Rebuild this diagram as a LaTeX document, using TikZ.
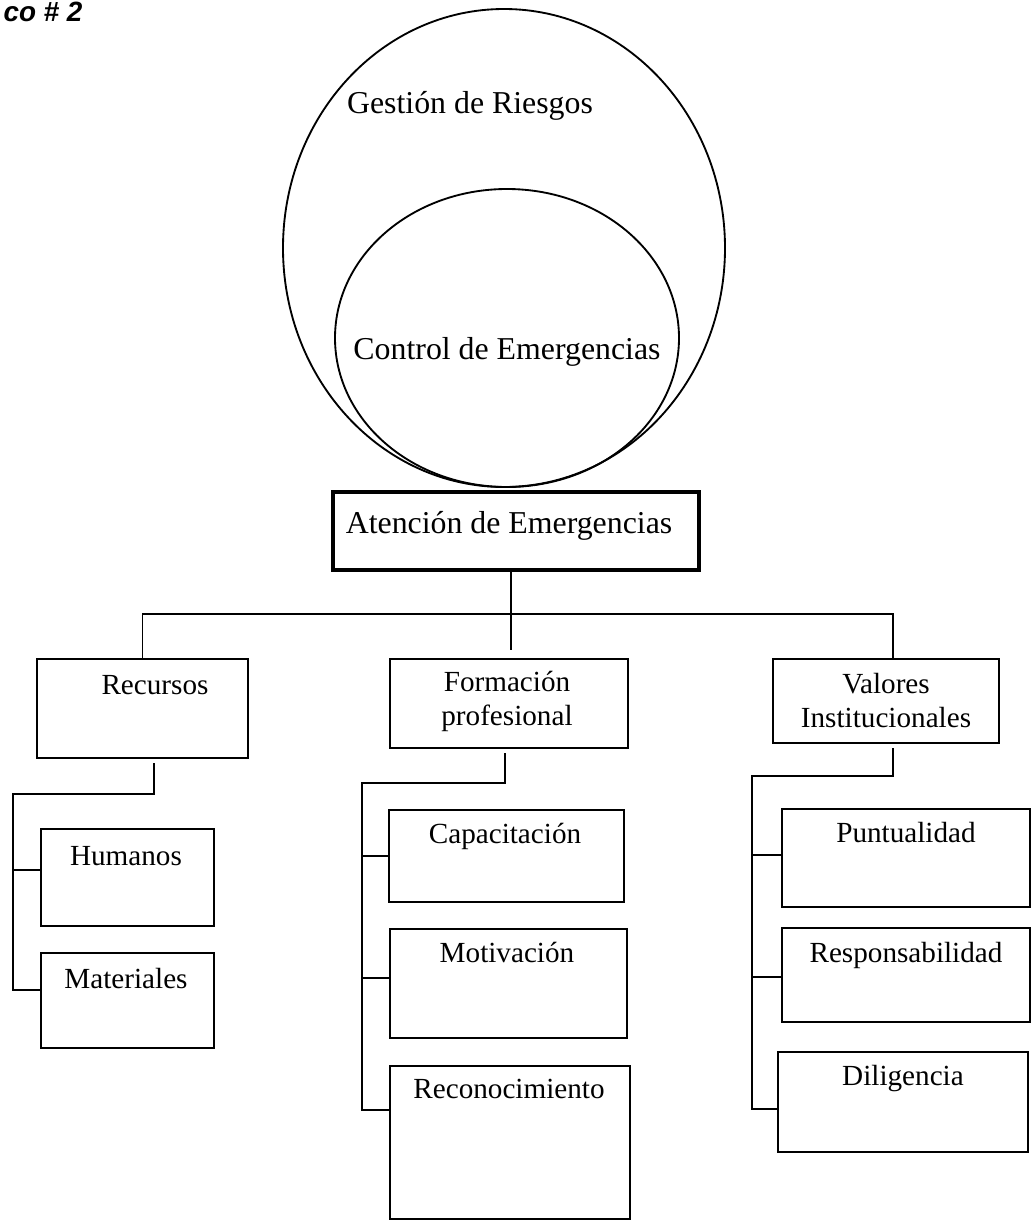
\documentclass[tikz,border=0pt]{standalone}
\usepackage{fontspec}
\setmainfont{Liberation Serif}
\newfontfamily\titulofont{Liberation Sans}
\usepackage{tikz}
\usetikzlibrary{calc}

% one pixel of the sketch
\newcommand{\upx}{0.377pt}

\begin{document}
\begin{tikzpicture}[x=0.377pt, y=-0.377pt,
    linea/.style={line width=0.7pt},
    caja/.style={draw, line width=0.7pt, anchor=north west, inner sep=0pt},
    textoG/.style={anchor=base, inner sep=0pt, font=\fontsize{12}{14}\selectfont},
    textoP/.style={anchor=base, inner sep=0pt, align=center, font=\fontsize{11}{12.6}\selectfont}]
  \useasboundingbox (0,0) rectangle (1031,1220);

  % Title (at the page edge)
  \node[anchor=base west, inner sep=0pt, font=\titulofont\bfseries\itshape\fontsize{10.5}{12}\selectfont] (titulo) at (3,21) {co \# 2};

  % Circles
  \draw[linea] (504,248) ellipse [x radius=221, y radius=239];
  \draw[linea] (507,338) ellipse [x radius=172, y radius=149];
  \node[textoG] (gestion) at (470,113) {Gestión de Riesgos};
  \node[textoG] (control) at (507,359) {Control de Emergencias};

  % Main box
  \node[caja, line width=1.6pt, minimum width=366*\upx, minimum height=78*\upx] (aten) at (331,490) {};
  \node[textoG] (atenT) at (509,533) {Atención de Emergencias};

  % First level
  \node[caja, minimum width=211*\upx, minimum height=99*\upx] (recursos) at (36,658) {};
  \node[caja, minimum width=238*\upx, minimum height=89*\upx] (formacion) at (389,658) {};
  \node[caja, minimum width=226*\upx, minimum height=84*\upx] (valores) at (772,658) {};
  \node[textoP] (recursosT) at (155,694) {Recursos};
  \node[textoP] (formacionT) at (507,725) {Formación\\profesional};
  \node[textoP] (valoresT) at (886,727) {Valores\\Institucionales};

  % Second level
  \node[caja, minimum width=173*\upx, minimum height=97*\upx] (humanos) at (40,828) {};
  \node[caja, minimum width=173*\upx, minimum height=95*\upx] (materiales) at (40,952) {};
  \node[caja, minimum width=235*\upx, minimum height=92*\upx] (capacitacion) at (388,809) {};
  \node[caja, minimum width=237*\upx, minimum height=109*\upx] (motivacion) at (389,928) {};
  \node[caja, minimum width=240*\upx, minimum height=153*\upx] (reconocimiento) at (389,1065) {};
  \node[caja, minimum width=248*\upx, minimum height=98*\upx] (puntualidad) at (781,808) {};
  \node[caja, minimum width=248*\upx, minimum height=94*\upx] (responsabilidad) at (781,927) {};
  \node[caja, minimum width=250*\upx, minimum height=100*\upx] (diligencia) at (777,1051) {};
  \node[textoP] (humanosT) at (126,865) {Humanos};
  \node[textoP] (materialesT) at (126,988) {Materiales};
  \node[textoP] (capacitacionT) at (505,843) {Capacitación};
  \node[textoP] (motivacionT) at (507,962) {Motivación};
  \node[textoP] (reconocimientoT) at (509,1098) {Reconocimiento};
  \node[textoP] (puntualidadT) at (906,842) {Puntualidad};
  \node[textoP] (responsabilidadT) at (906,962) {Responsabilidad};
  \node[textoP] (diligenciaT) at (903,1085) {Diligencia};

  % Bus under the main box
  \coordinate (medio) at (511,650);
  \coordinate (busD) at (893,614);
  \draw[linea] (aten.south -| medio) -- (medio);
  \draw[linea] (recursos.north) |- (busD) -- (busD |- valores.north);

  % Recursos branch
  \coordinate (rA) at (154,763);
  \coordinate (rB) at (13,794);
  \coordinate (rH) at (13,870);
  \coordinate (rM) at (13,990);
  \draw[linea] (rA) |- (rB) -- (rM) -- (rM -| materiales.west);
  \draw[linea] (rH) -- (rH -| humanos.west);

  % Formacion branch
  \coordinate (fA) at (505,753);
  \coordinate (fB) at (362,783);
  \coordinate (fC) at (362,856);
  \coordinate (fM) at (362,978);
  \coordinate (fR) at (362,1110);
  \draw[linea] (fA) |- (fB) -- (fR) -- (fR -| reconocimiento.west);
  \draw[linea] (fC) -- (fC -| capacitacion.west);
  \draw[linea] (fM) -- (fM -| motivacion.west);

  % Valores branch
  \coordinate (vA) at (893,748);
  \coordinate (vB) at (752,776);
  \coordinate (vP) at (752,855);
  \coordinate (vR) at (752,977);
  \coordinate (vD) at (752,1109);
  \draw[linea] (vA) |- (vB) -- (vD) -- (vD -| diligencia.west);
  \draw[linea] (vP) -- (vP -| puntualidad.west);
  \draw[linea] (vR) -- (vR -| responsabilidad.west);

\end{tikzpicture}
\end{document}
